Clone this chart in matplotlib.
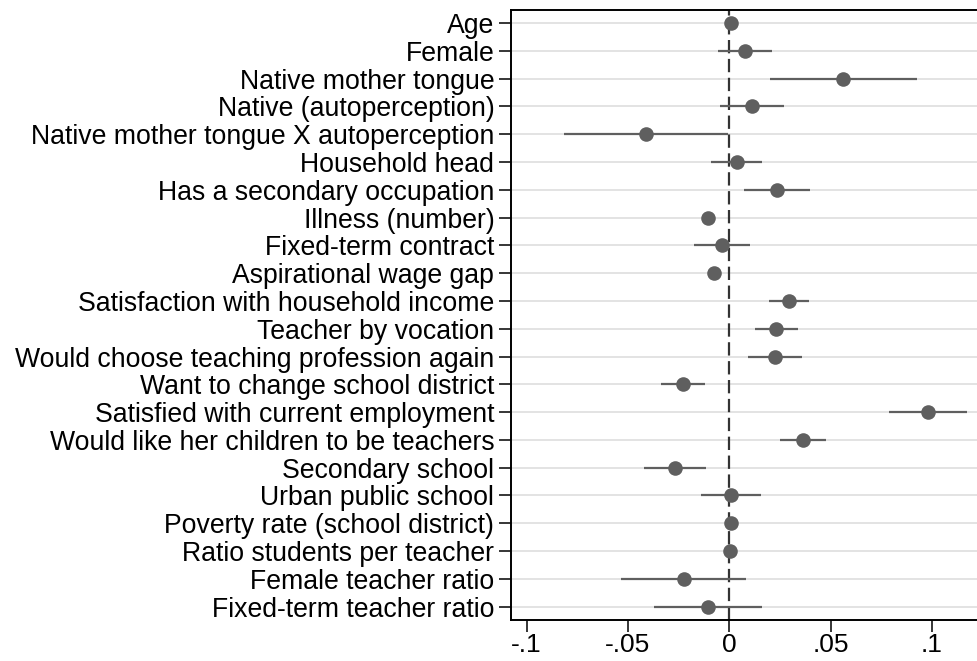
import matplotlib
matplotlib.use("Agg")
import matplotlib.pyplot as plt
import numpy as np

plt.rcParams['font.family'] = ['Liberation Sans', 'DejaVu Sans']

labels = ["Age", "Female", "Native mother tongue", "Native (autoperception)",
          "Native mother tongue X autoperception", "Household head",
          "Has a secondary occupation", "Illness (number)", "Fixed-term contract",
          "Aspirational wage gap", "Satisfaction with household income",
          "Teacher by vocation", "Would choose teaching profession again",
          "Want to change school district", "Satisfied with current employment",
          "Would like her children to be teachers", "Secondary school",
          "Urban public school", "Poverty rate (school district)",
          "Ratio students per teacher", "Female teacher ratio",
          "Fixed-term teacher ratio"]

coef = [0.0008, 0.0076, 0.0563, 0.0111, -0.0413, 0.0036,
        0.0235, -0.0104, -0.0035, -0.0077, 0.0293,
        0.0232, 0.0226, -0.0229, 0.0979, 0.0364, -0.0267,
        0.0008, 0.0008, 0.0002, -0.0225, -0.0105]
lo = [0.0004, -0.0057, 0.0201, -0.0044, -0.0814, -0.0089,
      0.0074, -0.0108, -0.0173, -0.0081, 0.0194,
      0.0125, 0.0091, -0.0336, 0.0788, 0.0252, -0.0421,
      -0.0140, 0.0004, -0.0002, -0.0535, -0.0372]
hi = [0.0012, 0.0209, 0.0928, 0.0268, -0.0008, 0.0163,
      0.0400, -0.0100, 0.0104, -0.0073, 0.0392,
      0.0339, 0.0360, -0.0118, 0.1172, 0.0479, -0.0114,
      0.0158, 0.0012, 0.0006, 0.0081, 0.0161]

xticks = [-0.1, -0.05, 0, 0.05, 0.1]
xticklabels = ["-.1", "-.05", "0", ".05", ".1"]

fig = plt.figure(figsize=(9.77, 6.61), dpi=100)
ax = fig.add_axes([511/977, 41/661, 466/977, 610/661])

n = len(labels)
y = np.arange(n)

# grid lines behind everything
for yy in y:
    ax.axhline(yy, color='#e1e1e1', lw=1.3, zorder=0)

ax.axvline(0, color='#333333', lw=1.6, dashes=(6, 2.5), zorder=1)

ax.hlines(y, lo, hi, color='#5f5f5f', lw=1.6, zorder=2)
ax.plot(coef, y, 'o', color='#5f5f5f', ms=10.5, mec='none', zorder=3)

ax.set_yticks(y)
ax.set_yticklabels(labels, fontsize=19.2)
ax.set_xticks(xticks)
ax.set_xticklabels(xticklabels, fontsize=19)
ax.set_xlim(-0.1077, 0.1223)
ax.set_ylim(n - 1 + 0.48, -0.47)

ax.spines['right'].set_visible(False)
for s in ['left', 'top', 'bottom']:
    ax.spines[s].set_linewidth(1.4)
ax.tick_params(axis='y', length=9, width=1.1, pad=3)
ax.tick_params(axis='x', length=8.6, width=1.1, pad=0.5)

fig.savefig("out.png", dpi=100)
